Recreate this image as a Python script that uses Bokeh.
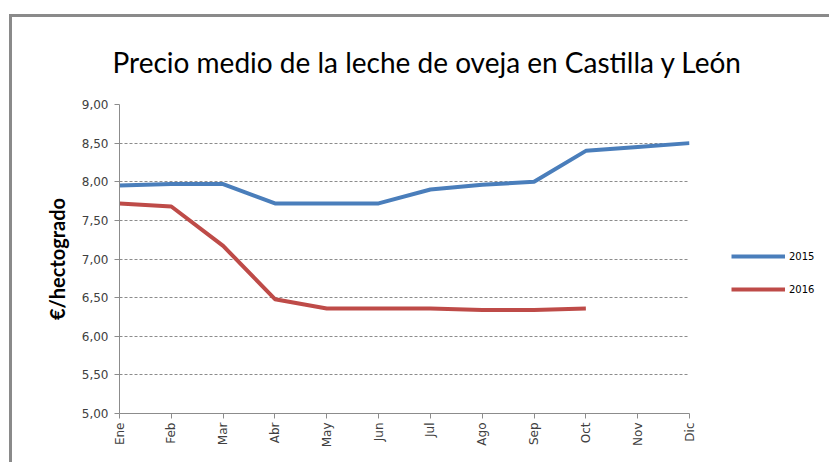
from bokeh.plotting import figure
from bokeh.models import FixedTicker, Legend, LegendItem, Range1d
from bokeh.embed import file_html
from bokeh.resources import INLINE
import math

months = ["Ene", "Feb", "Mar", "Abr", "May", "Jun", "Jul", "Ago", "Sep", "Oct", "Nov", "Dic"]
y2015 = [7.95, 7.97, 7.97, 7.72, 7.72, 7.72, 7.90, 7.96, 8.00, 8.40, 8.45, 8.50]
y2016 = [7.72, 7.68, 7.17, 6.48, 6.36, 6.36, 6.36, 6.34, 6.34, 6.36]
y_ticks = [5.0, 5.5, 6.0, 6.5, 7.0, 7.5, 8.0, 8.5, 9.0]
y_tick_labels = ["5,00", "5,50", "6,00", "6,50", "7,00", "7,50", "8,00", "8,50", "9,00"]
title_text = "Precio medio de la leche de oveja en Castilla y León"
y_label = "€/hectogrado"

x_all = list(range(len(months)))

p = figure(frame_width=570, frame_height=309, output_backend="svg", toolbar_location=None,
           x_range=Range1d(0, len(months) - 1), y_range=Range1d(5, 9),
           min_border_left=107, min_border_right=140, min_border_top=87, min_border_bottom=58,
           title=title_text, margin=(17, 0, 0, 12),
           styles={"box-shadow": "0 0 0 3px #8a8a8a"})
p.outline_line_color = None
p.background_fill_color = "white"
p.border_fill_color = "white"

p.title.text_font = "Lato"
p.title.text_font_size = "28px"
p.title.text_font_style = "normal"
p.title.text_color = "#000000"
p.title.align = "left"
p.title.offset = -7
p.title.standoff = 51

r1 = p.line(x_all, y2015, line_color="#4A7EBB", line_width=4)
r2 = p.line(x_all[:len(y2016)], y2016, line_color="#BE4B48", line_width=4)

p.xaxis.ticker = FixedTicker(ticks=x_all)
p.xaxis.major_label_overrides = {i: m for i, m in enumerate(months)}
p.xaxis.major_label_orientation = math.pi / 2
p.yaxis.ticker = FixedTicker(ticks=y_ticks)
p.yaxis.major_label_overrides = {t: l for t, l in zip(y_ticks, y_tick_labels)}

for ax in (p.xaxis, p.yaxis):
    ax.axis_line_color = "#8c8c8c"
    ax.major_tick_line_color = "#8c8c8c"
    ax.major_tick_out = 5
    ax.major_tick_in = 0
    ax.minor_tick_line_color = None
    ax.major_label_text_font = "DejaVu Sans"
    ax.major_label_text_font_size = "12px"
    ax.major_label_text_color = "#404040"
p.xaxis.major_label_standoff = 4
p.yaxis.major_label_standoff = 6

p.yaxis.axis_label = y_label
p.yaxis.axis_label_text_font = "Lato"
p.yaxis.axis_label_text_font_style = "bold"
p.yaxis.axis_label_text_font_size = "20px"
p.yaxis.axis_label_text_color = "#000000"
p.yaxis.axis_label_standoff = 10

p.xgrid.grid_line_color = None
p.ygrid.grid_line_color = "#8c8c8c"
p.ygrid.grid_line_dash = "3 2"
p.ygrid.grid_line_width = 1

legend = Legend(items=[LegendItem(label="2015", renderers=[r1]),
                       LegendItem(label="2016", renderers=[r2])],
                location=(42, 114), orientation="vertical")
legend.border_line_color = None
legend.background_fill_alpha = 0
legend.padding = 0
legend.margin = 0
legend.glyph_width = 54
legend.glyph_height = 20
legend.label_height = 20
legend.spacing = 13
legend.label_standoff = 4
legend.label_text_font = "DejaVu Sans"
legend.label_text_font_size = "10px"
legend.label_text_color = "#000000"
p.add_layout(legend, "right")

open("out.html", "w").write(file_html(p, INLINE))
